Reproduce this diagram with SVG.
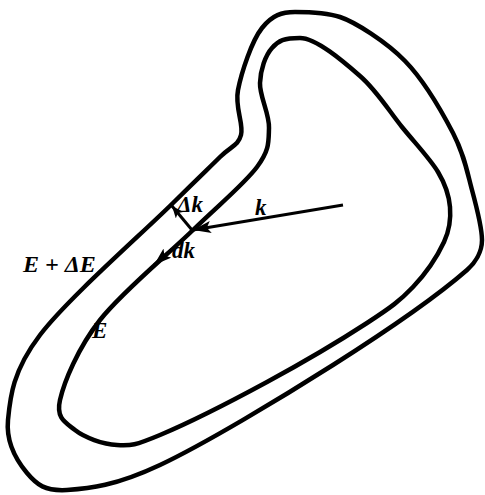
<svg xmlns="http://www.w3.org/2000/svg" width="485" height="495" viewBox="0 0 485 495">
<style>
.curve{fill:none;stroke:#000;stroke-width:4.5;stroke-linejoin:round}
.arr{fill:none;stroke:#000;stroke-width:3}
.lbl{font-family:"Liberation Serif","DejaVu Serif",serif;font-style:italic;font-weight:bold;font-size:23px;fill:#000}
</style>
<defs>
<marker id="ah" markerUnits="userSpaceOnUse" markerWidth="20" markerHeight="12" refX="18" refY="6" orient="auto">
<path d="M0,0 L18,6 L0,12 L4,6 Z" fill="#000"/>
</marker>
<marker id="ahs" markerUnits="userSpaceOnUse" markerWidth="14" markerHeight="10" refX="12" refY="5" orient="auto">
<path d="M0,0 L12,5 L0,10 L3,5 Z" fill="#000"/>
</marker>
</defs>
<rect width="485" height="495" fill="#fff"/>
<g id="outer">
<path class="curve" d="M295,12 C308,12 325,12 340,17 C355,22 386.2,41.7 405,61 C423.8,80.3 441.8,111.5 453,133 C464.2,154.5 467.2,172.2 472,190 C476.8,207.8 482,228 482,240 C482,252 475,263 467,270 C435,298 384.2,332.5 333,365 C281.8,397.5 204.3,444.2 160,465 C115.7,485.8 89.2,488.7 67,490 C44.8,491.3 36.8,484.7 27,473 C17.2,461.3 5.8,443 8,420 C10.2,397 12.5,371.2 40,335 C67.5,298.8 143,232.7 173,203 C203,173.3 208.7,168.3 220,157 C231.3,145.7 238,146.2 241,135 C244,123.8 234.5,107.8 238,90 C241.5,72.2 251.7,41 262,28 C272.3,15 282,12 295,12 Z"/>
</g>
<g id="inner">
<path class="curve" d="M300,38 C316,38 343,61.2 360,76 C377,90.8 389,111 402,127 C415,143 430,158.7 438,172 C446,185.3 449,195.3 450,207 C451,218.7 450.2,228.7 444,242 C437.8,255.3 425.8,273.5 413,287 C400.2,300.5 391.3,307.2 367,323 C342.7,338.8 301.5,363.3 267,382 C232.5,400.7 185,424.5 160,435 C135,445.5 131.2,445.8 117,445 C102.8,444.2 84.5,437.5 75,430 C65.5,422.5 55.8,418.3 60,400 C64.2,381.7 77.8,348.3 100,320 C122.2,291.7 166.8,255.5 193,230 C219.2,204.5 244.3,184 257,167 C269.7,150 268.5,142 269,128 C269.5,114 259.5,96.3 260,83 C260.5,69.7 265.3,55.5 272,48 C278.7,40.5 284,38 300,38 Z"/>
</g>
<g id="connectors">
<path class="arr" d="M343,205 L193,230" marker-end="url(#ah)"/>
<path class="arr" d="M192,230 L172,206" marker-end="url(#ahs)"/>
<path class="arr" d="M172,249 L154,265" marker-end="url(#ah)"/>
</g>
<g id="labels">
<text class="lbl" x="255" y="215">k</text>
<text class="lbl" x="177" y="212">Δk</text>
<text class="lbl" x="172" y="258">dk</text>
<text class="lbl" x="23" y="272" style="font-size:24px">E + ΔE</text>
<text class="lbl" x="92" y="338">E</text>
</g>
</svg>
